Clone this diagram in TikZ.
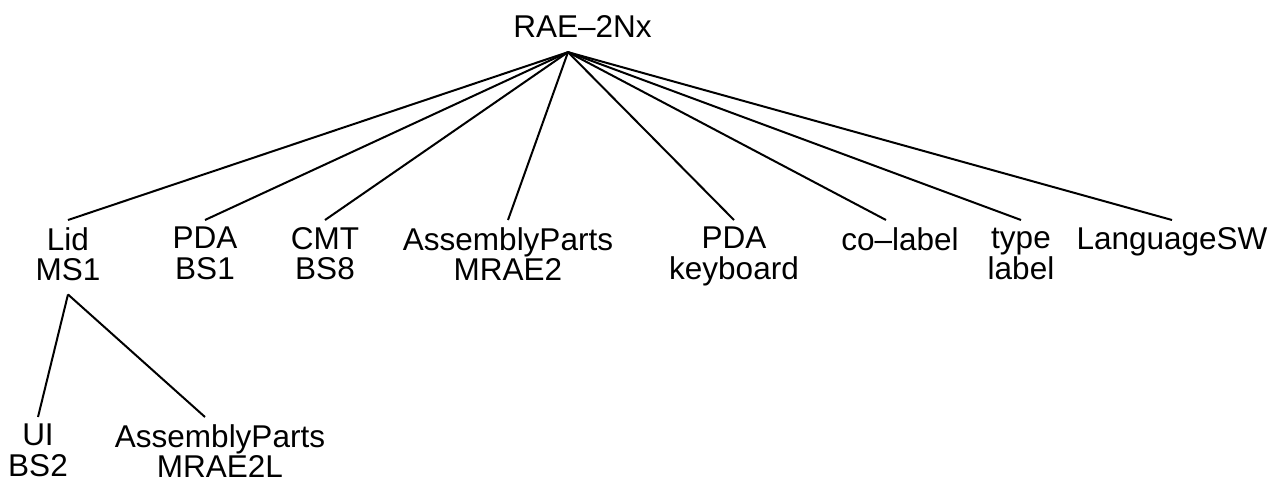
\documentclass[tikz,border=0pt]{standalone}
\usepackage{fontspec}
\setmainfont{Liberation Sans}
\newcommand\lyst{\vphantom{Ly}}
\begin{document}
\begin{tikzpicture}[x=1pt,y=-1pt,
  lbl/.style={font=\fontsize{31.5}{30.7}\selectfont, align=center, inner xsep=0pt, inner ysep=7pt, anchor=north},
  edge/.style={line width=2pt}]
\useasboundingbox (0,0) rectangle (1283,480);
\node[font=\fontsize{31.5}{30.7}\selectfont, inner xsep=0pt, inner ysep=8.4pt, anchor=base] (root) at (582.5,37) {RAE–2Nx\vphantom{y}};
\node[lbl] (c1) at (68,220) {\lyst Lid\\MS1\lyst};
\node[lbl] (c2) at (205,220) {\lyst PDA\\BS1\lyst};
\node[lbl] (c3) at (325,220) {\lyst CMT\\BS8\lyst};
\node[lbl] (c4) at (508,220) {\lyst AssemblyParts\\MRAE2\lyst};
\node[lbl] (c5) at (734,220) {\lyst PDA\\keyboard\lyst};
\node[lbl] (c6) at (900,220) {\lyst co–label\lyst};
\node[lbl] (c7) at (1021,220) {\lyst type\\label\lyst};
\node[lbl] (c8) at (1172,220) {\lyst LanguageSW\lyst};
\node[lbl] (g1) at (38,417) {\lyst UI\\BS2\lyst};
\node[lbl] (g2) at (220,417) {\lyst AssemblyParts\\MRAE2L\lyst};
\foreach \c in {c1,c2,c3,c4,c5,c7,c8}
  \draw[edge] ([xshift=-14.5pt]root.south) -- (\c.north);
\draw[edge] ([xshift=-14.5pt]root.south) -- ([xshift=-14pt]c6.north);
\draw[edge] (c1.south) -- (g1.north);
\draw[edge] (c1.south) -- ([xshift=-15pt]g2.north);
\end{tikzpicture}
\end{document}
